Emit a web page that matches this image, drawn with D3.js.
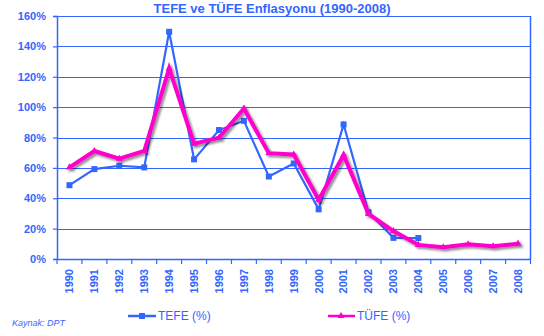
<!DOCTYPE html>
<html><head><meta charset="utf-8">
<script src="https://cdn.jsdelivr.net/npm/d3@7"></script>
<style>body{margin:0;background:#fff}svg{display:block}</style>
</head><body>
<svg id="c" width="544" height="336"></svg>
<script>
const years = ["1990","1991","1992","1993","1994","1995","1996","1997","1998","1999","2000","2001","2002","2003","2004","2005","2006","2007","2008"];
const tefe = [48.6,59.2,61.4,60.3,149.6,65.6,84.9,91.0,54.3,62.9,32.7,88.6,30.8,13.9,13.8];
const tufe = [60.3,71.1,66.0,71.1,125.5,76.0,79.8,99.1,69.7,68.8,39.0,68.5,29.7,18.4,9.3,7.7,9.7,8.4,10.1];
const yTicks = [0,20,40,60,80,100,120,140,160];

const blue = "#3366ff", mag = "#ff00cc";
const svg = d3.select("#c");
const L = 57, R = 530.5, T = 16, B = 259;
const x = d3.scaleBand().domain(years).range([L, R]);
const y = d3.scaleLinear().domain([0,160]).range([B, T]);
const font = "Arial, 'Liberation Sans', sans-serif";

const defs = svg.append("defs");
const f = defs.append("filter").attr("id","sh").attr("x","-10%").attr("y","-10%").attr("width","120%").attr("height","130%");
f.append("feDropShadow").attr("dx",2).attr("dy",2).attr("stdDeviation",1.2).attr("flood-color","#000").attr("flood-opacity",0.45);

svg.append("text").attr("x",272).attr("y",13).attr("text-anchor","middle")
  .attr("font-family",font).attr("font-weight","bold").attr("font-size",13).attr("fill",blue)
  .text("TEFE ve TÜFE Enflasyonu (1990-2008)");

// gridlines
svg.append("g").selectAll("line").data(yTicks.filter(d=>d>0)).join("line")
  .attr("x1",L).attr("x2",R).attr("y1",d=>Math.round(y(d))+0.5).attr("y2",d=>Math.round(y(d))+0.5)
  .attr("stroke",blue).attr("stroke-width",1.2);
svg.append("line").attr("x1",R).attr("x2",R).attr("y1",T).attr("y2",B).attr("stroke",blue).attr("stroke-width",1.5);

// y axis
const ya = svg.append("g").attr("transform",`translate(${L},0)`)
  .call(d3.axisLeft(y).tickValues(yTicks).tickFormat(d=>d+"%").tickSize(4).tickPadding(7));
ya.select(".domain").attr("stroke",blue).attr("stroke-width",1.5);
ya.selectAll(".tick line").attr("stroke",blue).attr("stroke-width",1.2);
ya.selectAll("text").attr("fill",blue).attr("font-family",font).attr("font-weight","bold").attr("font-size",11);

// x axis
const xa = svg.append("g").attr("transform",`translate(0,${B})`)
  .call(d3.axisBottom(x).tickSize(0).tickSizeOuter(0));
xa.select(".domain").attr("stroke",blue).attr("stroke-width",1.5);
xa.selectAll(".tick text").attr("fill",blue).attr("font-family",font).attr("font-weight","bold").attr("font-size",11)
  .attr("text-anchor","end").attr("transform","rotate(-90)").attr("x",-10).attr("y",0).attr("dy","0.35em");
// boundary ticks
svg.append("g").selectAll("line").data(years.concat(["end"])).join("line")
  .attr("x1",(d,i)=>L+i*x.step()).attr("x2",(d,i)=>L+i*x.step())
  .attr("y1",B).attr("y2",B+5).attr("stroke",blue).attr("stroke-width",1.2);

const cx = i => x(years[i]) + x.bandwidth()/2;

// TEFE
const lineT = d3.line().x((d,i)=>cx(i)).y(d=>y(d));
svg.append("path").datum(tefe).attr("d",lineT).attr("fill","none").attr("stroke",blue).attr("stroke-width",2.2);
svg.append("g").selectAll("rect").data(tefe).join("rect")
  .attr("x",(d,i)=>cx(i)-3).attr("y",d=>y(d)-3).attr("width",6).attr("height",6).attr("fill",blue);

// TÜFE
const g2 = svg.append("g").attr("filter","url(#sh)");
g2.append("path").datum(tufe).attr("d",lineT).attr("fill","none").attr("stroke",mag).attr("stroke-width",4).attr("stroke-linejoin","miter");
g2.selectAll("path.m").data(tufe).join("path").attr("class","m")
  .attr("d",d3.symbol(d3.symbolTriangle,22)).attr("transform",(d,i)=>`translate(${cx(i)},${y(d)})`).attr("fill",mag);

// legend
svg.append("line").attr("x1",128).attr("x2",156).attr("y1",316).attr("y2",316).attr("stroke",blue).attr("stroke-width",2.5);
svg.append("rect").attr("x",139).attr("y",313).attr("width",6).attr("height",6).attr("fill",blue);
svg.append("text").attr("x",158).attr("y",320).attr("font-family",font).attr("font-size",12).attr("fill",blue).text("TEFE (%)");
svg.append("line").attr("x1",328).attr("x2",355).attr("y1",316).attr("y2",316).attr("stroke",mag).attr("stroke-width",2.5);
svg.append("path").attr("d",d3.symbol(d3.symbolTriangle,22)).attr("transform","translate(341,316)").attr("fill",mag);
svg.append("text").attr("x",357).attr("y",320).attr("font-family",font).attr("font-size",12).attr("fill",blue).text("TÜFE (%)");

svg.append("text").attr("x",12).attr("y",326).attr("font-family",font).attr("font-style","italic").attr("font-size",9).attr("fill",blue).text("Kaynak: DPT");
</script>
</body></html>
